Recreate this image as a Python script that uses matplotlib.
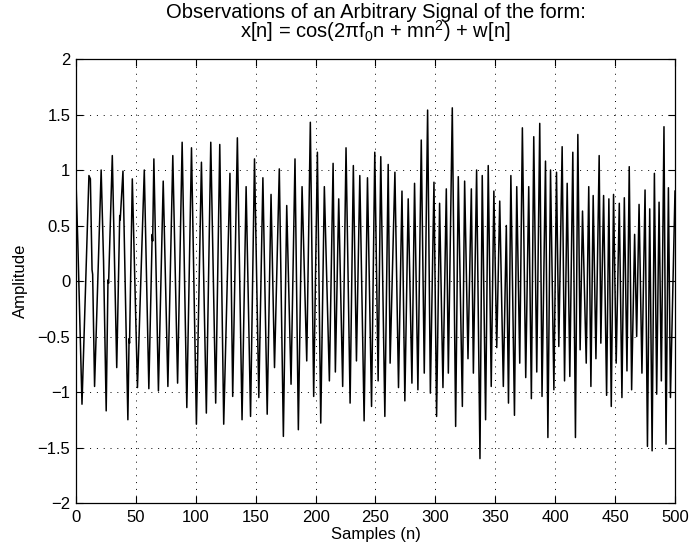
import matplotlib
matplotlib.use("Agg")
import matplotlib.pyplot as plt

plt.rcParams['font.family'] = ['Liberation Sans', 'DejaVu Sans']
plt.rcParams['mathtext.fontset'] = 'custom'
plt.rcParams['mathtext.rm'] = 'Liberation Sans'
plt.rcParams['mathtext.it'] = 'Liberation Sans'
plt.rcParams['mathtext.default'] = 'regular'

# Sample index and amplitude of the turning points
sample_n = [0, 1.5, 5, 10.8, 12, 13.4, 13.9, 15.5, 21, 23, 25.2, 26.7, 27.2, 30.3, 34,
            36.5, 36.9, 39.2, 43.3, 44.3, 44.7, 47, 51.3, 57, 60.8, 63.6, 64.0, 65,
            68.8, 72.8, 76.7, 80.8, 84.8, 88.6, 92.5, 96.4, 100.5, 104.7, 108.8, 112.5,
            116.6, 120.0, 123.3, 128.5, 130.8, 134.7, 138.6, 142.0, 145.7, 149.0, 152.6,
            156.0, 159.6, 162.8, 165.7, 169.7, 173.1,
            175.9, 179.5, 182.8, 185.6, 188.7, 192.6, 195.6, 198.4, 201.5, 204.3, 207.3,
            211.5, 214.6, 216.5, 219.3, 222.6, 225.4, 228.8, 231.5, 234.1, 236.9, 240.5,
            243.3, 246.7, 249.4, 252.2, 254.4, 257.8, 260.6, 262.2, 266.2, 269.2, 272.1,
            274.5, 277.3, 280.4, 282.6, 285.4, 288.2, 290.7, 293.5, 295.8, 298.8, 301,
            303.5, 306.3, 309.1, 310.8, 314.1, 316.9, 319.1, 322.5, 324.4, 327.2, 330,
            331.7, 334.4, 337.2, 339.1, 341.9, 344.1, 346.6, 348.8, 351.2, 353.7, 356.7,
            359.2, 361.0, 363.0, 366, 367.9, 370.4, 372.6, 375.4, 377.9, 380.1, 382.1,
            384.6, 387.1, 389, 391.9, 393.9, 396.1, 398.9, 401.1, 403, 405.8, 407.8, 410,
            412.2, 414.7, 416.9, 418.9, 420.8, 422.8, 425.9, 428.0, 429.8, 431.7, 434,
            436.7, 438.1, 440.4, 442.9, 444.8, 446.8, 448.7, 450.9, 453.5, 455.7, 457.7,
            459.9, 461.8, 463.8, 466.3, 468, 470, 472.4, 475, 477, 478.9, 480.9, 482.8,
            484.7, 486.7, 488.6, 490.8, 492.5, 494.5, 496.2, 500]
amplitude = [0.90, 0.35, -1.11, 0.95, 0.92, 0.10, 0.06, -0.95, 1.00, 0.18, -1.17, 0.01, -0.02,
             1.13, -0.78, 0.59, 0.55, 0.99, -1.25, -0.52, -0.56, 0.92, -0.96, 1.00, -0.97,
             0.42, 0.36, 1.10, -0.99, 0.90, -0.95, 1.13, -0.92, 1.25, -1.14, 1.20, -1.29,
             1.07, -1.19, 1.25, -1.10, 1.23,
             -1.29, 0.97, -1.04, 1.29, -1.25, 0.85, -1.22, 1.10, -1.05, 0.93, -1.20, 0.78,
             -0.78, 1.01, -1.40, 0.68, -0.93, 1.10, -1.34, 0.85, -0.72, 1.43, -1.04, 1.16,
             -1.28, 0.85, -0.90, 1.06, -0.82, 0.74, -0.95, 1.20, -1.10, 1.04, -0.72, 0.95,
             -1.26, 0.93, -1.13, 1.16, -0.90, 1.12, -1.22, 1.05, -0.74, 0.98, -0.96, 0.81,
             -1.08, 0.74, -0.92, 0.88, -0.98, 1.27, -0.83, 1.54, -1.01, 0.89, -1.22, 0.70,
             -0.96, 0.83, -0.83, 1.56, -1.31, 0.94, -1.13, 0.90, -0.70, 0.83, -0.83, 1.00,
             -1.60, 0.95, -1.25, 1.04, -0.95, 0.81, -0.60, 0.72, -0.95, 0.50, -1.10, 0.95,
             -1.21, 0.85, -0.74, 1.38, -0.87, 0.85, -1.06, 1.30, -0.82, 1.42, -1.04, 1.08,
             -1.41, 1.00, -0.98, 0.98, -0.59, 1.21, -0.90, 0.88, -0.86, 1.16, -1.41, 1.32,
             -0.62, 0.63, -0.74, 0.85, -0.95, 0.77, -0.70, 1.13, -0.56, 0.77, -1.03, 0.74,
             -1.13, 0.78, -0.74, 0.70, -1.05, 0.75, -0.81, 1.03, -0.98, 0.42, -0.50, 0.69,
             -0.83, 0.82, -1.49, 0.65, -1.53, 0.97, -1.02, 0.71, -0.90, 1.39, -1.47, 0.84,
             -1.05, 0.81]

x_ticks = [0, 50, 100, 150, 200, 250, 300, 350, 400, 450, 500]
y_ticks = [-2, -1.5, -1, -0.5, 0, 0.5, 1, 1.5, 2]
y_tick_labels = ['\u22122', '\u22121.5', '\u22121', '\u22120.5', '0', '0.5', '1', '1.5', '2']

title_line1 = 'Observations of an Arbitrary Signal of the form:'
title_line2 = r'x[n] = cos(2$\pi$f$_0$n + mn$^2$) + w[n]'

W, H = 690, 558
fig = plt.figure(figsize=(W / 100, H / 100), dpi=100)
ax_l, ax_r, ax_t, ax_b = 76, 675, 59, 503
ax = fig.add_axes([ax_l / W, 1 - ax_b / H, (ax_r - ax_l) / W, (ax_b - ax_t) / H])

ax.plot(sample_n, amplitude, color='black', linewidth=1.1)

ax.set_xlim(0, 500)
ax.set_ylim(-2, 2)
ax.set_xticks(x_ticks)
ax.set_xticklabels([str(t) for t in x_ticks])
ax.set_yticks(y_ticks)
ax.set_yticklabels(y_tick_labels)

ax.grid(True, color='black', linestyle=(0, (1, 6)), linewidth=0.7)
ax.tick_params(direction='in', length=5, width=0.8, top=True, right=True,
               labelsize=12, colors='black')
ax.tick_params(axis='x', pad=5)
ax.tick_params(axis='y', pad=4)
for sp in ax.spines.values():
    sp.set_linewidth(0.9)

cx = (ax_l + ax_r) / 2 / W
fig.text(cx, 1 - 534 / H, 'Samples (n)', fontsize=12, ha='center', va='center')
fig.text(20.5 / W, 1 - 281 / H, 'Amplitude', fontsize=12, rotation=90,
         ha='center', va='center')
fig.text(cx, 1 - 18 / H, title_line1, fontsize=14.5, ha='center', va='baseline')
fig.text(cx, 1 - 37.5 / H, title_line2, fontsize=14.5, ha='center', va='baseline')

fig.savefig('out.png', dpi=100)
